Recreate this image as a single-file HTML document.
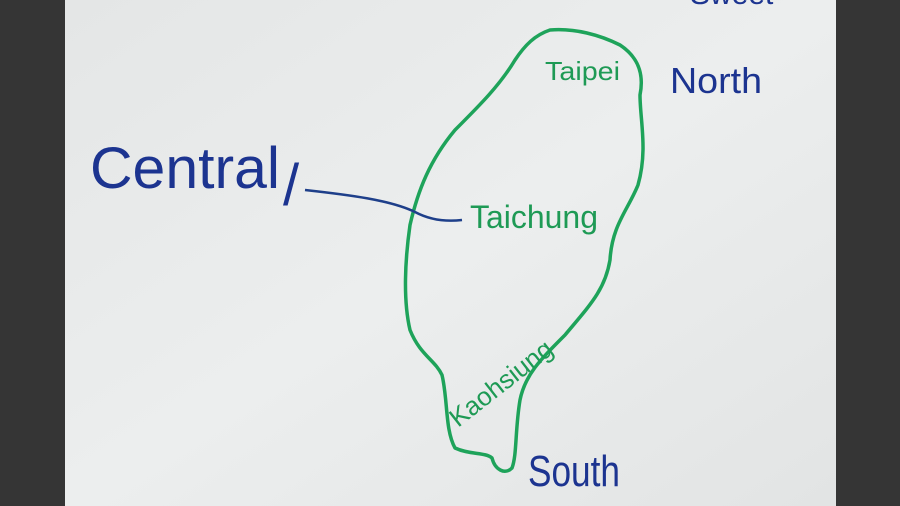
<!DOCTYPE html>
<html><head><meta charset="utf-8"><style>
html,body{margin:0;padding:0;width:900px;height:506px;overflow:hidden;background:#333;}
</style></head><body>
<svg width="900" height="506" viewBox="0 0 900 506" xmlns="http://www.w3.org/2000/svg">
<defs>
<linearGradient id="wb" x1="0" y1="0" x2="1" y2="1">
<stop offset="0" stop-color="#e4e6e6"/><stop offset="0.5" stop-color="#eceeee"/><stop offset="1" stop-color="#e2e4e4"/>
</linearGradient>
</defs>
<rect x="0" y="0" width="900" height="506" fill="#353535"/>
<rect x="65" y="0" width="771" height="506" fill="url(#wb)"/>
<path d="M550,30 C575,28 600,35 620,45 C635,55 645,70 640,95 C640,120 648,150 638,185 C628,210 612,225 610,260 C605,290 590,305 565,335 C540,360 525,375 520,400 C515,430 517,455 512,468 C505,475 495,470 492,458 C485,452 470,455 455,448 C445,430 448,400 442,375 C435,360 420,355 410,330 C403,300 405,260 410,225 C418,190 430,160 455,130 C480,105 500,85 515,60 C525,45 535,35 550,30 Z" fill="none" stroke="#1ea35a" stroke-width="3.5" stroke-linejoin="round"/>
<path d="M305,190 C350,195 390,200 415,212 C430,220 445,222 462,220" fill="none" stroke="#1e3f8a" stroke-width="2.5"/>
<g font-family="'Liberation Sans',sans-serif" fill="#1c3490">
<text x="90" y="188" font-size="58" textLength="190" lengthAdjust="spacingAndGlyphs">Central</text>
<text x="283" y="205" font-size="58">/</text>
<text x="670" y="93" font-size="36" textLength="92" lengthAdjust="spacingAndGlyphs">North</text>
<text x="528" y="486" font-size="44" textLength="92" lengthAdjust="spacingAndGlyphs">South</text>
<text x="690" y="4" font-size="30">Sweet</text>
</g>
<g font-family="'Liberation Sans',sans-serif" fill="#1e9a55">
<text x="545" y="80" font-size="26" textLength="75" lengthAdjust="spacingAndGlyphs">Taipei</text>
<text x="470" y="228" font-size="32" textLength="128" lengthAdjust="spacingAndGlyphs">Taichung</text>
<text x="0" y="0" font-size="26" transform="translate(458,428) rotate(-38)">Kaohsiung</text>
</g>
</svg>
</body></html>
